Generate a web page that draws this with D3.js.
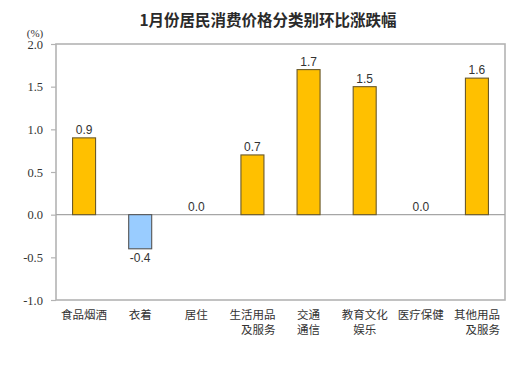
<!DOCTYPE html>
<html><head><meta charset="utf-8">
<script src="https://cdn.jsdelivr.net/npm/d3@7"></script>
<style>
html,body{margin:0;padding:0;background:#fff;}
</style></head>
<body>
<svg id="chart" width="526" height="365"></svg>
<script>
const title = "1月份居民消费价格分类别环比涨跌幅";
const categories = [["食品烟酒"],["衣着"],["居住"],["生活用品","\u3000及服务"],["交通","通信"],["教育文化","娱乐"],["医疗保健"],["其他用品","\u3000及服务"]];
const values = [0.9,-0.4,0.0,0.7,1.7,1.5,0.0,1.6];
const yTicks = [2.0,1.5,1.0,0.5,0.0,-0.5,-1.0];
const unitLabel = "(%)";

const fmt = d => d.toFixed(1);
const svg = d3.select("#chart");
const m = {left:56, right:505, top:44, bottom:300};

const x = d3.scaleBand().domain(d3.range(values.length)).range([m.left, m.right]).paddingInner(0.59).paddingOuter(0.295);
const y = d3.scaleLinear().domain([-1,2]).range([m.bottom, m.top]);

svg.append("text").attr("x",268).attr("y",26).attr("text-anchor","middle")
  .attr("font-family","'Noto Sans CJK SC'").attr("font-size",15.5).attr("font-weight","bold").attr("fill","#2a2a2a")
  .text(title);

// frame
svg.append("rect").attr("x",m.left).attr("y",m.top).attr("width",m.right-m.left).attr("height",m.bottom-m.top)
  .attr("fill","none").attr("stroke","#b3b3b3").attr("stroke-width",1.6);

// y axis
const yAxis = d3.axisLeft(y).tickValues(yTicks).tickFormat(fmt).tickSize(5).tickPadding(8);
const ga = svg.append("g").attr("transform",`translate(${m.left},0)`).call(yAxis);
ga.select(".domain").remove();
ga.selectAll(".tick line").attr("stroke","#b3b3b3").attr("stroke-width",1.2);
ga.selectAll(".tick text").attr("font-family","'Liberation Serif'").attr("font-size",12.5).attr("fill","#333");

svg.append("text").attr("x",35).attr("y",37).attr("text-anchor","middle")
  .attr("font-family","'Liberation Serif'").attr("font-size",11).attr("fill","#333").text(unitLabel);

// zero line
svg.append("line").attr("x1",m.left).attr("x2",m.right).attr("y1",y(0)).attr("y2",y(0))
  .attr("stroke","#a6a6a6").attr("stroke-width",1.2);

// bars
svg.append("g").selectAll("rect").data(values).join("rect")
  .attr("x",(d,i)=>x(i)).attr("width",x.bandwidth())
  .attr("y",d=>y(Math.max(0,d))).attr("height",d=>Math.abs(y(d)-y(0)))
  .attr("fill",d=>d<0?"#99CCFF":"#FFC000")
  .attr("stroke",d=>d<0?"#555":"#6b5a2a").attr("stroke-width",d=>d===0?0:1.1);

// value labels
svg.append("g").selectAll("text").data(values).join("text")
  .attr("x",(d,i)=>x(i)+x.bandwidth()/2)
  .attr("y",d=>d<0?y(d)+13:y(d)-4)
  .attr("text-anchor","middle").attr("font-family","'Liberation Sans'").attr("font-size",12).attr("fill","#333")
  .text(fmt);

// category labels
const cg = svg.append("g").selectAll("text").data(categories).join("text")
  .attr("x",(d,i)=>x(i)+x.bandwidth()/2).attr("y",319)
  .attr("text-anchor","middle").attr("font-family","'Noto Sans CJK SC'").attr("font-size",11.5).attr("fill","#333");
cg.selectAll("tspan").data(d=>d).join("tspan")
  .attr("x",function(){return d3.select(this.parentNode).attr("x");})
  .attr("dy",(d,j)=>j===0?0:15).text(d=>d);
</script>
</body></html>
